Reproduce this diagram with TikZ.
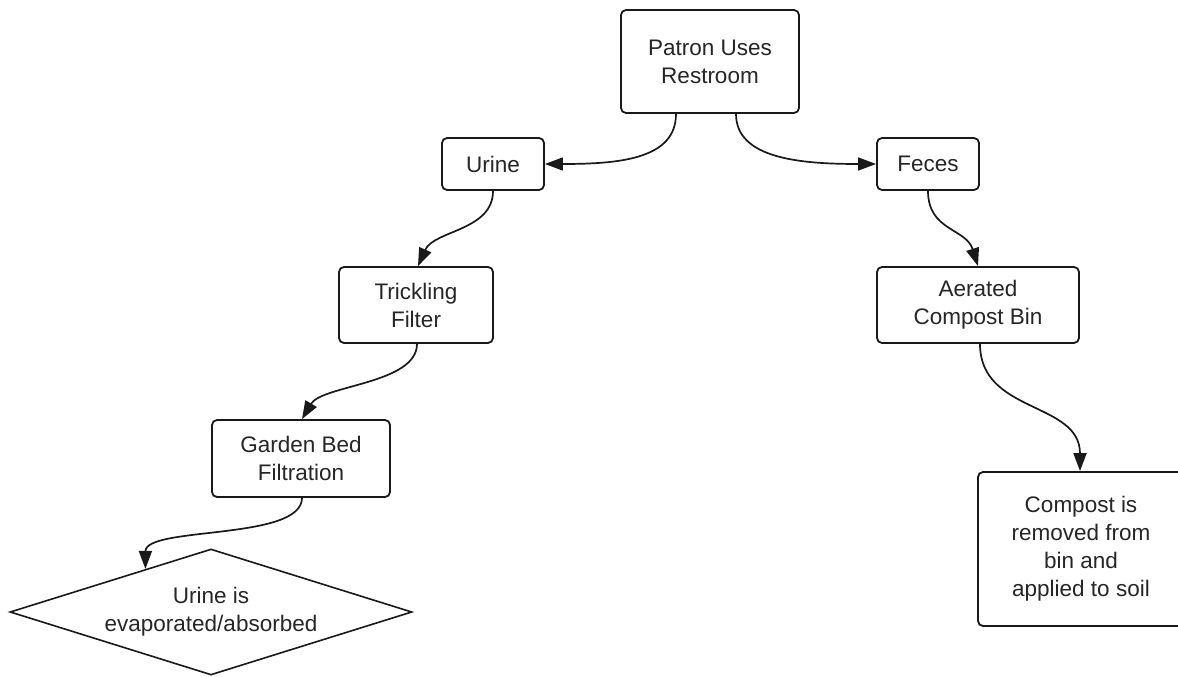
\documentclass[tikz,border=0pt]{standalone}
\usepackage{fontspec}
\setmainfont{Liberation Sans}
\usetikzlibrary{shapes.geometric,arrows.meta,calc}
\begin{document}
\begin{tikzpicture}[x=1pt,y=-1pt,
  box/.style={draw=black!90, line width=1.8pt, rounded corners=5pt, fill=white,
    align=center, inner sep=0pt, font=\fontsize{22.5}{28}\selectfont, text=black!85},
  decision/.style={diamond, aspect=3.19, draw=black!90, line width=1.6pt, fill=white,
    align=center, inner sep=0pt, font=\fontsize{22.5}{28}\selectfont, text=black!85},
  flow/.style={line width=1.7pt, draw=black!90, -{Triangle[length=18pt,width=13pt]}},
]
\useasboundingbox (0,0) rectangle (1178,677);

% process steps
\node[box, minimum width=178pt, minimum height=103pt] (pat) at (710,61.5) {Patron Uses\\Restroom};
\node[box, minimum width=102pt, minimum height=52pt] (uri) at (493,164) {Urine};
\node[box, minimum width=102pt, minimum height=52pt] (fec) at (928,164) {Feces};
\node[box, minimum width=154pt, minimum height=76pt] (tri) at (416,305) {Trickling\\Filter};
\node[box, minimum width=202pt, minimum height=76pt] (aer) at (978,305) {Aerated\\Compost Bin};
\node[box, minimum width=178pt, minimum height=77pt] (gar) at (301,458.5) {Garden Bed\\Filtration};
\node[decision, minimum width=402pt, minimum height=126pt] (eva) at (211,612) {Urine is\\evaporated/absorbed};
\node[box, minimum width=206pt, minimum height=154pt] (com) at (1081,549) {Compost is\\removed from\\bin and\\applied to soil};

% connectors
\draw[flow] ($(pat.south)+(-34,0)$) .. controls +(0,45) and +(75,0) .. (uri.east);
\draw[flow] ($(pat.south)+(26,0)$) .. controls +(0,45) and +(-75,0) .. (fec.west);
\draw[flow] (uri.south) .. controls +(0,40) and +(16,-36) .. ($(tri.north)+(2,0)$);
\draw[flow] ($(tri.south)+(1,0)$) .. controls +(0,40) and +(20,-34) .. ($(gar.north)+(1,0)$);
\draw[flow] ($(gar.south)+(1,0)$) .. controls +(0,43) and +(0,-43) .. ($(eva.west)!0.675!(eva.north)$);
\draw[flow] (fec.south) .. controls +(0,40) and +(-12,-38) .. (aer.north);
\draw[flow] ($(aer.south)+(2,0)$) .. controls +(0,70) and +(0,-70) .. ($(com.north)+(-1,0)$);
\end{tikzpicture}
\end{document}
